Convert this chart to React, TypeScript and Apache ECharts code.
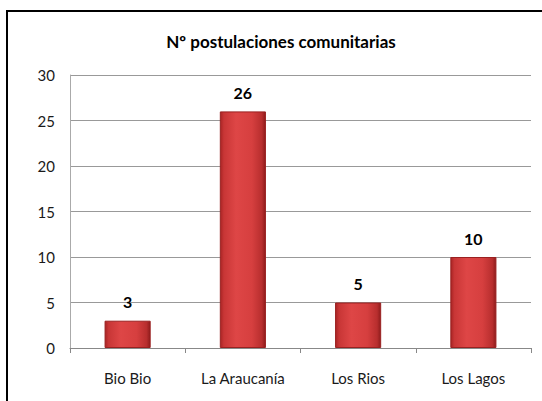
import React, { useEffect, useRef } from "react";
import * as echarts from "echarts";

const categories = ["Bio Bio", "La Araucanía", "Los Rios", "Los Lagos"];
const values = [3, 26, 5, 10];
const yTicks = [0, 5, 10, 15, 20, 25, 30];

const FONT = "Lato, 'Open Sans', sans-serif";

export default function App() {
  const ref = useRef<HTMLDivElement>(null);
  useEffect(() => {
    const chart = echarts.init(ref.current!, null, { renderer: "svg" });
    chart.setOption({
      animation: false,
      backgroundColor: "#ffffff",
      title: {
        text: "Nº postulaciones comunitarias",
        left: 276,
        top: 28,
        textAlign: "center",
        textStyle: { fontFamily: FONT, fontWeight: "bold", fontSize: 17, color: "#000" },
      },
      graphic: [
        {
          type: "rect",
          shape: { x: 7, y: 11, width: 700, height: 600 },
          style: { fill: "none", stroke: "#000", lineWidth: 2 },
          silent: true,
        },
      ],
      grid: { left: 70, right: 11, top: 75, bottom: 53 },
      xAxis: {
        type: "category",
        data: categories,
        axisLine: { lineStyle: { color: "#888888", width: 1 } },
        axisTick: { show: true, length: 5, lineStyle: { color: "#888888" } },
        axisLabel: { fontFamily: FONT, fontSize: 15, color: "#1a1a1a", margin: 22 },
      },
      yAxis: {
        type: "value",
        min: yTicks[0],
        max: yTicks[yTicks.length - 1],
        interval: 5,
        axisLine: { show: true, lineStyle: { color: "#aaaaaa", width: 1 } },
        axisTick: { show: false },
        splitLine: { lineStyle: { color: "#999999", width: 1 } },
        axisLabel: { fontFamily: FONT, fontSize: 15, color: "#1a1a1a", margin: 15 },
      },
      series: [
        {
          type: "bar",
          data: values,
          barWidth: "40%",
          itemStyle: {
            color: new echarts.graphic.LinearGradient(0, 0, 1, 0, [
              { offset: 0, color: "#a82424" },
              { offset: 0.08, color: "#c83636" },
              { offset: 0.35, color: "#de4646" },
              { offset: 0.7, color: "#d63f3f" },
              { offset: 0.92, color: "#b82e2e" },
              { offset: 1, color: "#8e1c1c" },
            ]),
            borderColor: "#9a2020",
            borderWidth: 1,
          },
          label: {
            show: true,
            position: "top",
            distance: 11,
            fontFamily: FONT,
            fontWeight: "bold",
            fontSize: 16,
            color: "#000",
          },
        },
      ],
    });
    return () => chart.dispose();
  }, []);
  return (
    <div
      ref={ref}
      style={{ position: "absolute", left: 0, top: 0, width: 542, height: 401 }}
    />
  );
}
